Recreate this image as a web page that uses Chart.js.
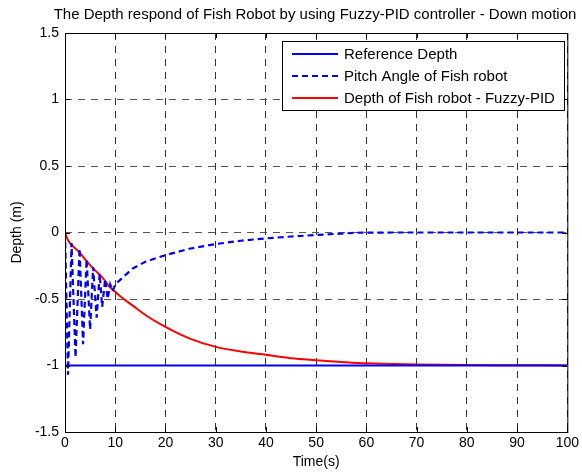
<!DOCTYPE html>
<html><head><meta charset="utf-8">
<script src="https://cdn.jsdelivr.net/npm/chart.js@4/dist/chart.umd.min.js"></script>
<style>html,body{margin:0;padding:0;background:#fff}#wrap{width:582px;height:472px}</style>
</head><body><div id="wrap"><canvas id="c" width="582" height="472"></canvas></div>
<script>
const titleText = "The Depth respond of Fish Robot by using Fuzzy-PID controller - Down motion";
const xLabel = "Time(s)";
const yLabel = "Depth (m)";
const seriesNames = ["Reference Depth", "Pitch Angle of Fish robot", "Depth of Fish robot - Fuzzy-PID"];
const xTicks = [0,10,20,30,40,50,60,70,80,90,100];
const yTicks = [-1.5,-1,-0.5,0,0.5,1,1.5];

const refTime = [0, 100];
const refDepth = [-1, -1];

const pitchTime = [0,0.6,1.3,2.1,2.9,3.6,4.3,5.0,5.6,6.3,6.9,7.4,8.0,8.5,9.0,9.5,10,13.5,16,20,25,30,35,40,45,50,55,58,65,80,100];
const pitchAngle = [0,-1.07,-0.08,-0.94,-0.12,-0.84,-0.2,-0.73,-0.26,-0.64,-0.31,-0.56,-0.35,-0.5,-0.39,-0.44,-0.39,-0.27,-0.22,-0.17,-0.12,-0.087,-0.062,-0.044,-0.03,-0.019,-0.008,-0.002,0,0,0];

const depthTime = [0,0.5,1,1.7,3,4.3,5.6,7.6,8.9,10,11,13.5,16,20,25,30,35,40,45,50,55,60,70,80,90,100];
const depthValues = [0,-0.05,-0.08,-0.107,-0.155,-0.215,-0.27,-0.345,-0.41,-0.445,-0.48,-0.55,-0.62,-0.71,-0.8,-0.86,-0.895,-0.92,-0.945,-0.96,-0.973,-0.984,-0.992,-0.996,-0.998,-1];

const toPts = (xs, ys) => xs.map((x, i) => ({x, y: ys[i]}));
const FONT = "'Liberation Sans', Arial, Helvetica, sans-serif";

const decor = {
  id: 'decor',
  afterDraw(chart) {
    const ctx = chart.ctx, a = chart.chartArea;
    const xs = chart.scales.x, ys = chart.scales.y;
    ctx.save();
    ctx.strokeStyle = '#000'; ctx.lineWidth = 1; ctx.setLineDash([]);
    ctx.strokeRect(a.left + 0.5, a.top + 0.5, a.right - a.left, a.bottom - a.top);
    ctx.beginPath();
    xTicks.forEach(t => {
      const px = Math.round(xs.getPixelForValue(t)) + 0.5;
      ctx.moveTo(px, a.bottom); ctx.lineTo(px, a.bottom - 5);
      ctx.moveTo(px, a.top); ctx.lineTo(px, a.top + 5);
    });
    yTicks.forEach(t => {
      const py = Math.round(ys.getPixelForValue(t)) + 0.5;
      ctx.moveTo(a.left, py); ctx.lineTo(a.left + 5, py);
      ctx.moveTo(a.right, py); ctx.lineTo(a.right - 5, py);
    });
    ctx.stroke();
    ctx.fillStyle = '#000';
    ctx.textAlign = 'center'; ctx.textBaseline = 'middle';
    ctx.font = '15px ' + FONT;
    ctx.fillText(titleText, 315, 15);
    ctx.font = '14px ' + FONT;
    ctx.fillText(xLabel, (a.left + a.right) / 2, 462);
    ctx.save();
    ctx.translate(17, (a.top + a.bottom) / 2);
    ctx.rotate(-Math.PI / 2);
    ctx.fillText(yLabel, 0, 0);
    ctx.restore();
    const lx = 282.5, ly = 41.5, lw = 282, lh = 69;
    ctx.fillStyle = '#fff';
    ctx.fillRect(lx, ly, lw, lh);
    ctx.strokeStyle = '#000'; ctx.lineWidth = 1;
    ctx.strokeRect(lx, ly, lw, lh);
    const rows = [54, 76, 98];
    chart.data.datasets.forEach((ds, i) => {
      ctx.strokeStyle = ds.borderColor; ctx.lineWidth = 2;
      ctx.setLineDash(ds.borderDash || []);
      ctx.beginPath(); ctx.moveTo(292, rows[i]); ctx.lineTo(338, rows[i]); ctx.stroke();
      ctx.setLineDash([]);
      ctx.fillStyle = '#000'; ctx.textAlign = 'left'; ctx.font = '15px ' + FONT;
      ctx.fillText(ds.label, 344, rows[i] + 1);
    });
    ctx.restore();
  }
};

new Chart(document.getElementById('c'), {
  type: 'line',
  data: {
    datasets: [
      {label: seriesNames[0], data: toPts(refTime, refDepth), borderColor: '#0000ff', borderWidth: 2, pointRadius: 0, tension: 0},
      {label: seriesNames[1], data: toPts(pitchTime, pitchAngle), borderColor: '#0000ff', borderWidth: 2.2, borderDash: [6, 4], pointRadius: 0, tension: 0},
      {label: seriesNames[2], data: toPts(depthTime, depthValues), borderColor: '#ff0000', borderWidth: 2, pointRadius: 0, cubicInterpolationMode: 'monotone'}
    ]
  },
  options: {
    responsive: false, animation: false, devicePixelRatio: 1,
    layout: {padding: {top: 33, right: 11, left: 0, bottom: 0}},
    plugins: {legend: {display: false}, title: {display: false}, tooltip: {enabled: false}},
    scales: {
      x: {
        type: 'linear', min: 0, max: 100,
        afterBuildTicks: s => { s.ticks = xTicks.map(v => ({value: v})); },
        afterFit: s => { s.height = 40; },
        ticks: {color: '#000', font: {size: 14, family: FONT}, padding: 3, maxRotation: 0, autoSkip: false, callback: v => String(v)},
        grid: {color: '#333', lineWidth: 1, drawTicks: false},
        border: {display: false, dash: [7, 6]}
      },
      y: {
        type: 'linear', min: -1.5, max: 1.5,
        afterBuildTicks: s => { s.ticks = yTicks.map(v => ({value: v})); },
        afterFit: s => { s.width = 65; },
        ticks: {color: '#000', font: {size: 14, family: FONT}, padding: 6, autoSkip: false, callback: v => String(v)},
        grid: {color: '#555', lineWidth: 1, drawTicks: false},
        border: {display: false, dash: [7, 6]}
      }
    }
  },
  plugins: [decor]
});
</script>
</body></html>
